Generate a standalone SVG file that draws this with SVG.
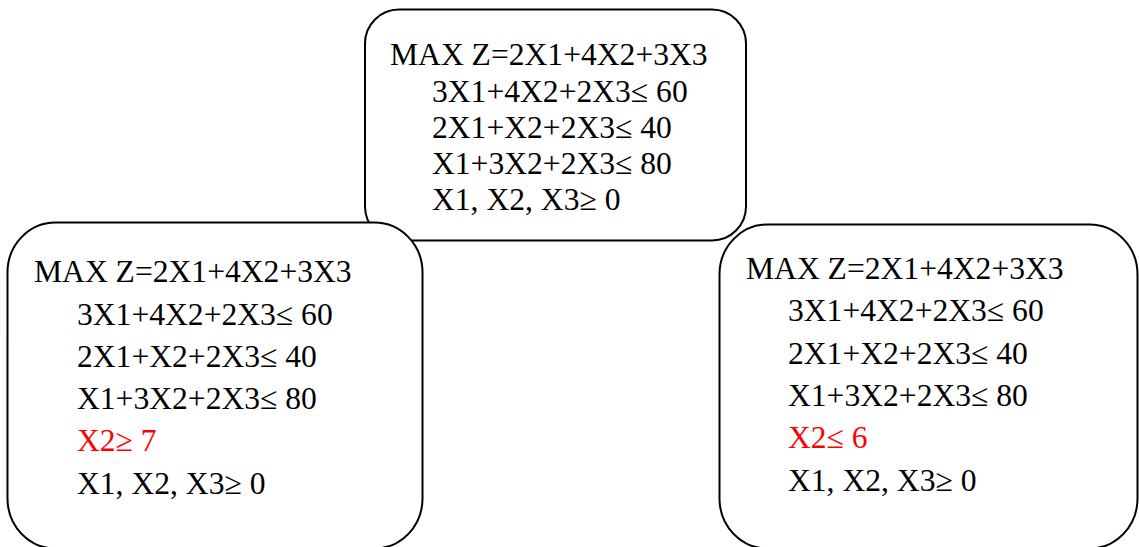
<svg xmlns="http://www.w3.org/2000/svg" width="1139" height="547" viewBox="0 0 1139 547">
<style>
.box{fill:#fff;stroke:#000;stroke-width:2}
text{font-family:"Liberation Serif","Times New Roman",serif;font-size:31.6px;fill:#000}
.red{fill:#f00}
</style>
<rect width="1139" height="547" fill="#fff"/>
<g id="connectors"></g>
<g id="root">
<rect class="box" x="365" y="9.5" width="381" height="231" rx="34" ry="34"/>
<text x="390" y="65">MAX Z=2X1+4X2+3X3</text>
<text x="432" y="101.5">3X1+4X2+2X3≤ 60</text>
<text x="432" y="137.5">2X1+X2+2X3≤ 40</text>
<text x="432" y="174">X1+3X2+2X3≤ 80</text>
<text x="432" y="210">X1, X2, X3≥ 0</text>
</g>
<g id="left">
<rect class="box" x="7.5" y="222.5" width="415" height="326" rx="48" ry="50"/>
<text x="34" y="282">MAX Z=2X1+4X2+3X3</text>
<text x="77" y="324.5">3X1+4X2+2X3≤ 60</text>
<text x="77" y="367">2X1+X2+2X3≤ 40</text>
<text x="77" y="409">X1+3X2+2X3≤ 80</text>
<text x="77" y="451" class="red">X2≥ 7</text>
<text x="77" y="493.5">X1, X2, X3≥ 0</text>
</g>
<g id="right">
<rect class="box" x="719.5" y="224.5" width="418" height="324" rx="48" ry="50"/>
<text x="746" y="278.5">MAX Z=2X1+4X2+3X3</text>
<text x="788" y="321">3X1+4X2+2X3≤ 60</text>
<text x="788" y="363.5">2X1+X2+2X3≤ 40</text>
<text x="788" y="406">X1+3X2+2X3≤ 80</text>
<text x="788" y="448" class="red">X2≤ 6</text>
<text x="788" y="491">X1, X2, X3≥ 0</text>
</g>
</svg>
